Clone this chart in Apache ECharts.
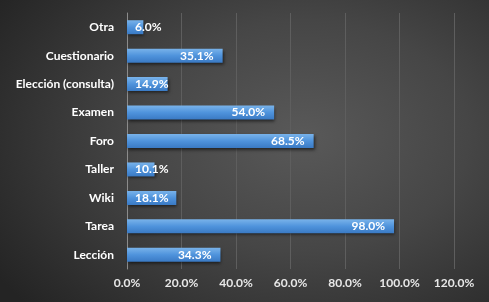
<!DOCTYPE html>
<html>
<head>
<meta charset="utf-8">
<script src="https://cdn.jsdelivr.net/npm/echarts@6/dist/echarts.min.js"></script>
<style>
  html, body { margin: 0; padding: 0; }
  #chart { width: 489px; height: 302px;
    background: radial-gradient(ellipse 75% 85% at 62% 45%, #595959 0%, #464646 45%, #2d2d2d 85%, #242424 100%); }
</style>
</head>
<body>
<div id="chart"></div>
<script>
const categories = ['Lección', 'Tarea', 'Wiki', 'Taller', 'Foro', 'Examen', 'Elección (consulta)', 'Cuestionario', 'Otra'];
const values = [34.3, 98.0, 18.1, 10.1, 68.5, 54.0, 14.9, 35.1, 6.0];
const tickValues = [0, 20, 40, 60, 80, 100, 120];

const chart = echarts.init(document.getElementById('chart'), null, { renderer: 'canvas' });
const font = 'Lato, "Open Sans", sans-serif';
const barData = values.map(v => ({
  value: v,
  label: v < 25 ? { position: 'insideLeft', distance: 8 } : { position: 'insideRight', distance: 9 }
}));
chart.setOption({
  backgroundColor: 'transparent',
  animation: false,
  grid: { left: 127, right: 35, top: 13, bottom: 33, containLabel: false },
  xAxis: {
    type: 'value', min: tickValues[0], max: tickValues[tickValues.length - 1], interval: 20,
    axisLine: { show: false }, axisTick: { show: false },
    splitLine: { lineStyle: { color: '#5e5e5e', width: 1 } },
    axisLabel: { color: '#e8e8e8', fontFamily: font, fontWeight: 'bold', fontSize: 12, margin: 8,
      formatter: v => v.toFixed(1) + '%' }
  },
  yAxis: {
    type: 'category', data: categories,
    axisLine: { show: true, lineStyle: { color: '#8c8c8c', width: 1 } },
    axisTick: { show: false },
    axisLabel: { color: '#ffffff', fontFamily: font, fontWeight: 'bold', fontSize: 12, margin: 13 }
  },
  series: [{
    type: 'bar', data: barData, barWidth: 14,
    itemStyle: {
      color: new echarts.graphic.LinearGradient(0, 0, 0, 1, [
        { offset: 0, color: '#79b3ea' },
        { offset: 0.5, color: '#4f93dc' },
        { offset: 1, color: '#3a7ac4' }
      ]),
      shadowColor: 'rgba(0,0,0,0.55)', shadowBlur: 3, shadowOffsetX: 1, shadowOffsetY: 2
    },
    label: { show: true, color: '#ffffff', fontFamily: font, fontWeight: 'bold', fontSize: 12,
      formatter: p => p.value.toFixed(1) + '%' }
  }]
});
</script>
</body>
</html>
